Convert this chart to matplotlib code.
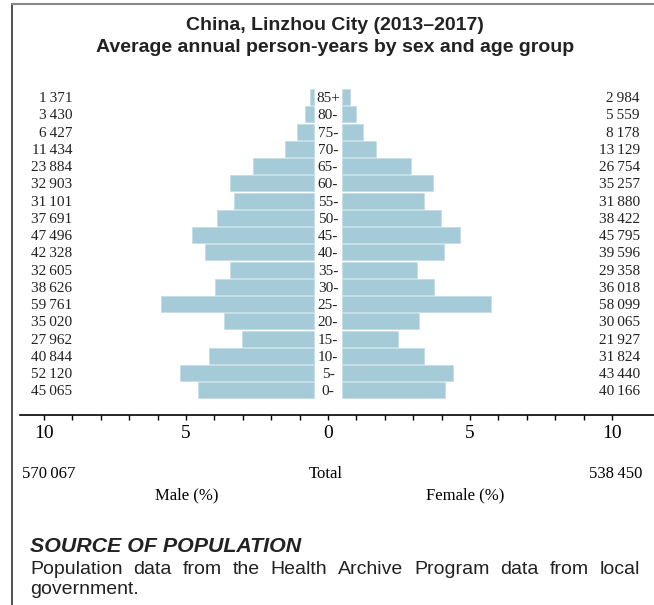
import numpy as np
import matplotlib
matplotlib.use('Agg')
import matplotlib.pyplot as plt
from matplotlib.lines import Line2D

# 年龄组（从下到上）
ages = ['0-', '5-', '10-', '15-', '20-', '25-', '30-', '35-', '40-',
        '45-', '50-', '55-', '60-', '65-', '70-', '75-', '80-', '85+']
male = [45065, 52120, 40844, 27962, 35020, 59761, 38626, 32605, 42328,
        47496, 37691, 31101, 32903, 23884, 11434, 6427, 3430, 1371]
female = [40166, 43440, 31824, 21927, 30065, 58099, 36018, 29358, 39596,
          45795, 38422, 31880, 35257, 26754, 13129, 8178, 5559, 2984]
male_total = 570067
female_total = 538450
tick_vals = [-10, -5, 0, 5, 10]
tick_labels = ['10', '5', '0', '5', '10']

W, H = 654, 605
bar_color = '#a6cbd8'
serif = 'Liberation Serif'
sans = 'Liberation Sans'
txt_color = '#222222'


def fmt(v):
    return f'{v:,}'.replace(',', '\u2009')


grand = male_total + female_total
pct_m = np.array(male) / grand * 100
pct_f = np.array(female) / grand * 100
y = np.arange(len(ages))
gap = 0.5  # 中间留给年龄标签的空隙

fig = plt.figure(figsize=(W / 100, H / 100), dpi=100)

# 坐标轴：0 在 x=328px，每单位 28.4px
x0, scale = 328, 28.4
ax_left_px, ax_right_px = 20, 654
ax_top_px, ax_bot_px = 88, 415
row, base = 17.24, 390.3
ax = fig.add_axes([ax_left_px / W, 1 - ax_bot_px / H,
                   (ax_right_px - ax_left_px) / W, (ax_bot_px - ax_top_px) / H])
ax.set_xlim((ax_left_px - x0) / scale, (ax_right_px - x0) / scale)
ax.set_ylim(-(ax_bot_px - base) / row, (base - ax_top_px) / row)

ax.barh(y, -pct_m, left=-gap, height=0.93, color=bar_color,
        edgecolor='#c4dde6', linewidth=0.6)
ax.barh(y, pct_f, left=gap, height=0.93, color=bar_color,
        edgecolor='#c4dde6', linewidth=0.6)

for i in range(len(ages)):
    ax.text(0, y[i], ages[i], ha='center', va='center_baseline', fontsize=11,
            family=serif, color=txt_color)
    ax.text((72 - x0) / scale, y[i], fmt(male[i]), ha='right', va='center_baseline',
            fontsize=11, family=serif, color=txt_color, clip_on=False)
    ax.text((640 - x0) / scale, y[i], fmt(female[i]), ha='right', va='center_baseline',
            fontsize=11, family=serif, color=txt_color, clip_on=False)

for s in ['top', 'left', 'right']:
    ax.spines[s].set_visible(False)
ax.spines['bottom'].set_linewidth(1.2)
ax.set_yticks([])
ax.set_xticks(tick_vals)
ax.set_xticklabels(tick_labels, family=serif, fontsize=14)
ax.set_xticks(np.arange(-10, 11), minor=True)
ax.tick_params(axis='x', which='both', direction='out', length=3.5, width=1,
               pad=4, color='black')
ax.patch.set_visible(False)


# 底部文字
def ft(xp, yp, s, **kw):
    return fig.text(xp / W, 1 - yp / H, s, **kw)


ft(22, 474, fmt(male_total), ha='left', va='center', family=serif, fontsize=12)
ft(326, 474, 'Total', ha='center', va='center', family=serif, fontsize=12)
ft(642, 474, fmt(female_total), ha='right', va='center', family=serif, fontsize=12)
ft(187, 495, 'Male (%)', ha='center', va='center', family=serif, fontsize=12)
ft(465, 495, 'Female (%)', ha='center', va='center', family=serif, fontsize=12)

# 标题
ft(335, 25, 'China, Linzhou City (2013\u20132017)', ha='center', va='center',
   family=sans, fontsize=14, fontweight='bold', color=txt_color)
ft(335, 47, 'Average annual person-years by sex and age group', ha='center',
   va='center', family=sans, fontsize=14, fontweight='bold', color=txt_color)

# 数据来源
ft(30, 546, 'SOURCE OF POPULATION', ha='left', va='center', family=sans,
   fontsize=15.4, fontweight='bold', style='italic', color=txt_color)

# 两端对齐的第一行
line1 = 'Population data from the Health Archive Program data from local'.split()
renderer = fig.canvas.get_renderer()
word_txts = [ft(0, 570, w, ha='left', va='center', family=sans, fontsize=14,
                color=txt_color) for w in line1]
widths = [t.get_window_extent(renderer).width for t in word_txts]
space = (640 - 30 - sum(widths)) / (len(line1) - 1)
xp = 30
for t, w in zip(word_txts, widths):
    t.set_x(xp / W)
    xp += w + space
ft(30, 590, 'government.', ha='left', va='center', family=sans,
   fontsize=14, color=txt_color)

# 边框
fig.add_artist(Line2D([12 / W, 12 / W], [0, 1 - 4 / H], transform=fig.transFigure,
                      color='#333333', linewidth=1.2))
fig.add_artist(Line2D([12 / W, 1], [1 - 4 / H, 1 - 4 / H], transform=fig.transFigure,
                      color='#888888', linewidth=1.5))

fig.savefig('out.png', dpi=100)
